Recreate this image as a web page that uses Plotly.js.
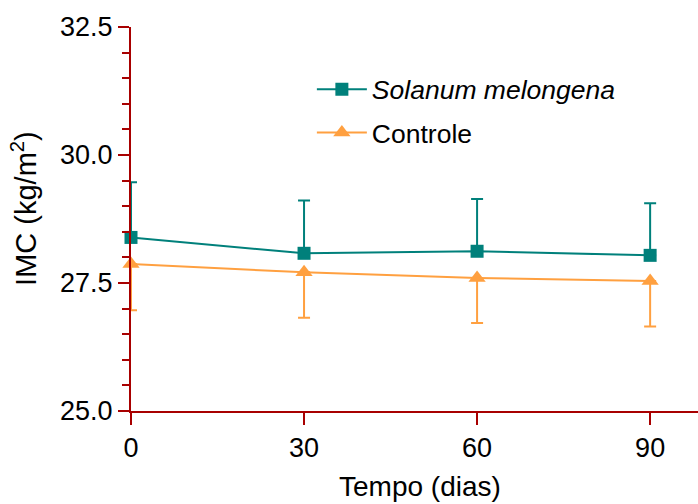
<!DOCTYPE html>
<html>
<head>
<meta charset="utf-8">
<script src="https://cdn.plot.ly/plotly-3.0.1.min.js"></script>
<style>html,body{margin:0;padding:0;background:#fff;}#chart{width:698px;height:504px;}</style>
</head>
<body>
<div id="chart"></div>
<script>
var days = [0, 30, 60, 90];
var xTickLabels = ["0", "30", "60", "90"];
var yTickVals = [25.0, 27.5, 30.0, 32.5];
var yTickLabels = ["25.0", "27.5", "30.0", "32.5"];
var solanumName = "<i>Solanum melongena</i>";
var solanum = [28.39, 28.08, 28.12, 28.04];
var solanumErrUp = [1.08, 1.03, 1.02, 1.02];
var controleName = "Controle";
var controle = [27.87, 27.71, 27.60, 27.54];
var controleErrDown = [0.90, 0.89, 0.88, 0.89];

var axisColor = "#a80000";
var teal = "#00807b";
var orange = "#ffa040";
var fontFam = "'Liberation Sans', Arial, sans-serif";

var zeros = days.map(function(){return 0;});

var traces = [
  {
    x: days, y: controle, name: controleName, type: "scatter", mode: "lines+markers",
    line: {color: orange, width: 2},
    marker: {symbol: "triangle-up", size: 15, color: orange},
    error_y: {type: "data", symmetric: false, array: zeros, arrayminus: controleErrDown,
              color: orange, thickness: 2, width: 6},
    cliponaxis: false, legendrank: 2, legendgroup: "b"
  },
  {
    x: days, y: solanum, name: solanumName, type: "scatter", mode: "lines+markers",
    line: {color: teal, width: 2},
    marker: {symbol: "square", size: 13, color: teal},
    error_y: {type: "data", symmetric: false, array: solanumErrUp, arrayminus: zeros,
              color: teal, thickness: 2, width: 6},
    cliponaxis: false, legendrank: 1, legendgroup: "a"
  }
];

var layout = {
  width: 698, height: 504,
  margin: {l: 131, r: 0, t: 27, b: 93},
  paper_bgcolor: "#fff", plot_bgcolor: "#fff",
  font: {family: fontFam, size: 27, color: "#000"},
  showlegend: true,
  legend: {x: 0.319, y: 0.90, xanchor: "left", yanchor: "top",
           bgcolor: "rgba(0,0,0,0)", font: {family: fontFam, size: 26.5, color: "#000"},
           tracegroupgap: 6, traceorder: "grouped", itemwidth: 50},
  xaxis: {
    range: [0, 98.3], showgrid: false, zeroline: false,
    showline: true, linecolor: axisColor, linewidth: 2,
    ticks: "outside", ticklen: 12, tickwidth: 2, tickcolor: axisColor,
    tickmode: "array", tickvals: days, ticktext: xTickLabels,
    tickfont: {family: fontFam, size: 27, color: "#000"},
    fixedrange: true
  },
  yaxis: {
    range: [25, 32.5], showgrid: false, zeroline: false,
    showline: true, linecolor: axisColor, linewidth: 2,
    ticks: "outside", ticklen: 11, tickwidth: 2, tickcolor: axisColor,
    tickmode: "array", tickvals: yTickVals, ticktext: yTickLabels,
    tickfont: {family: fontFam, size: 27, color: "#000"},
    minor: {dtick: 0.5, ticks: "outside", ticklen: 7, tickwidth: 2, tickcolor: axisColor, showgrid: false},
    fixedrange: true
  },
  annotations: [
    {text: "Tempo (dias)", xref: "paper", yref: "paper", x: 0.509, y: -0.196, xanchor: "center", yanchor: "middle",
     showarrow: false, font: {family: fontFam, size: 28, color: "#000"}},
    {text: "IMC (kg/m<sup>2</sup>)", xref: "paper", yref: "paper", x: -0.19, y: 0.527, xanchor: "center", yanchor: "middle",
     textangle: -90, showarrow: false, font: {family: fontFam, size: 29, color: "#000"}}
  ]
};

Plotly.newPlot("chart", traces, layout, {displayModeBar: false, staticPlot: true});
</script>
</body>
</html>
